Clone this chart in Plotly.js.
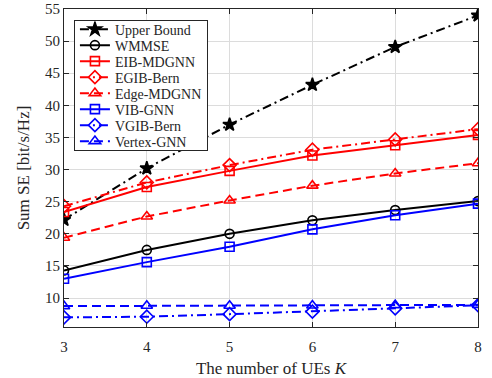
<!DOCTYPE html>
<html>
<head>
<meta charset="utf-8">
<script src="https://cdn.plot.ly/plotly-3.0.1.min.js"></script>
<style>html,body{margin:0;padding:0;background:#fff;}#chart{width:492px;height:378px;}</style>
</head>
<body>
<div id="chart"></div>
<script>
const numUEs = [3, 4, 5, 6, 7, 8];
const upperBound = [22.2, 30.2, 37.0, 43.2, 49.1, 54.0];
const wmmse = [14.3, 17.5, 20.0, 22.1, 23.7, 25.1];
const eibMdgnn = [23.4, 27.3, 29.8, 32.2, 33.8, 35.4];
const egibBern = [24.3, 28.0, 30.7, 33.1, 34.7, 36.3];
const edgeMdgnn = [19.4, 22.7, 25.2, 27.5, 29.4, 31.0];
const vibGnn = [13.0, 15.6, 18.0, 20.7, 22.9, 24.7];
const vgibBern = [7.0, 7.1, 7.5, 7.9, 8.4, 8.9];
const vertexGnn = [8.75, 8.8, 8.8, 8.85, 8.9, 8.95];

const DASH = '9px,5px';
const DASHDOT = '9px,4px,2px,4px';
function tr(name, y, color, dash, symbol, size) {
  return {
    x: numUEs, y: y, name: name, type: 'scatter', mode: 'lines+markers',
    line: {color: color, width: 2, dash: dash},
    marker: {symbol: symbol, size: size, color: color, line: {color: color, width: 1.6}}
  };
}
const traces = [
  tr('Upper Bound', upperBound, '#000000', DASHDOT, 'star', 10),
  tr('WMMSE', wmmse, '#000000', 'solid', 'circle-open', 9),
  tr('EIB-MDGNN', eibMdgnn, '#ff0000', 'solid', 'square-open', 9),
  tr('EGIB-Bern', egibBern, '#ff0000', DASHDOT, 'diamond-open', 10),
  tr('Edge-MDGNN', edgeMdgnn, '#ff0000', DASH, 'triangle-up-open', 10),
  tr('VIB-GNN', vibGnn, '#0000ff', 'solid', 'square-open', 9),
  tr('VGIB-Bern', vgibBern, '#0000ff', DASHDOT, 'diamond-open', 10),
  tr('Vertex-GNN', vertexGnn, '#0000ff', DASH, 'triangle-up-open', 10)
];

const FONT = 'Liberation Serif';
const axisCommon = {
  showline: true, linecolor: '#262626', linewidth: 1, mirror: 'ticks',
  ticks: 'inside', ticklen: 5, tickwidth: 1, tickcolor: '#262626',
  showgrid: true, gridcolor: '#dcdcdc', gridwidth: 1, zeroline: false,
  tickfont: {family: FONT, size: 15, color: '#262626'}
};
const layout = {
  width: 492, height: 378,
  margin: {l: 64, r: 14, t: 9, b: 51},
  paper_bgcolor: '#ffffff', plot_bgcolor: '#ffffff',
  showlegend: true,
  xaxis: Object.assign({}, axisCommon, {
    range: [3, 8], tickvals: numUEs, ticktext: numUEs.map(String),
    ticklabelstandoff: 6,
    title: {text: 'The number of UEs <i>K</i>', font: {family: FONT, size: 17, color: '#262626'}, standoff: 9}
  }),
  yaxis: Object.assign({}, axisCommon, {
    range: [5.5, 55], tick0: 0, dtick: 5,
    title: {text: 'Sum SE [bit/s/Hz]', font: {family: FONT, size: 17, color: '#262626'}, standoff: 11}
  }),
  legend: {
    x: 0.024, y: 0.965, xanchor: 'left', yanchor: 'top',
    bgcolor: '#ffffff', bordercolor: '#262626', borderwidth: 1,
    font: {family: FONT, size: 14, color: '#262626'},
    tracegroupgap: 0, itemwidth: 30
  }
};
const gd = document.getElementById('chart');
Plotly.newPlot(gd, traces, layout, {displayModeBar: false, staticPlot: true}).then(function () {
  // tighten legend row spacing to match the reference (about 16 px per entry, 8 px padding)
  const items = Array.from(gd.querySelectorAll('.legend .traces'));
  if (items.length < 2) return;
  const parse = function (el) {
    const m = /translate\(\s*([-\d.]+)[ ,]+([-\d.]+)/.exec(el.getAttribute('transform') || '');
    return m ? [parseFloat(m[1]), parseFloat(m[2])] : [0, 0];
  };
  const bg = gd.querySelector('.legend rect.bg');
  const p0 = parse(items[0]);
  const bgTop = bg ? bg.getBoundingClientRect().top : 0;
  const firstTop = items[0].getBoundingClientRect();
  const step = 16, pad = 8;
  // current screen center of first item
  const legendRoot = gd.querySelector('.legend');
  const rootTop = legendRoot.getBoundingClientRect().top;
  // items are centered on their translate y; find offset between translate y and screen
  const firstCenterScreen = p0[1];
  items.forEach(function (el, i) {
    const p = parse(el);
    el.setAttribute('transform', 'translate(' + p[0] + ',' + (pad + 1 + i * step) + ')');
  });
  const newH = pad * 2 + (items.length - 1) * step + 2;
  if (bg) bg.setAttribute('height', newH);
  gd.querySelectorAll('.legend clipPath rect, defs [id*="legend"] rect').forEach(function (r) {
    r.setAttribute('height', newH);
  });
});
</script>
</body>
</html>
